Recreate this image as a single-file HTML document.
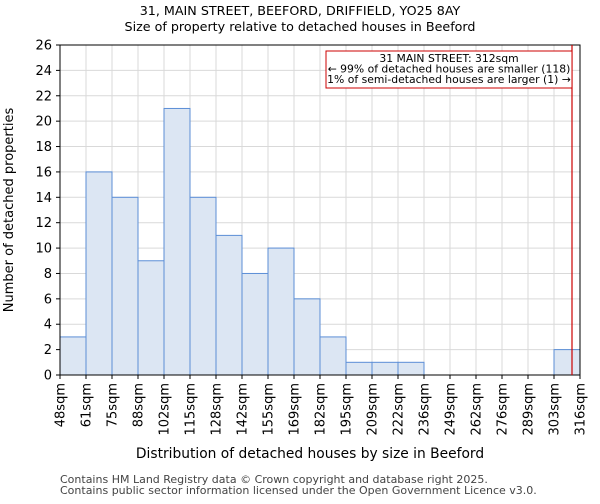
<!DOCTYPE html>
<html><head><meta charset="utf-8"><style>
body{margin:0;background:#fff;font-family:"DejaVu Sans","Liberation Sans",sans-serif;}
svg text{font-family:"DejaVu Sans","Liberation Sans",sans-serif;}
</style></head><body>
<svg id="chart" width="600" height="500" xmlns="http://www.w3.org/2000/svg">
<text x="300" y="15" text-anchor="middle" font-size="12.7">31, MAIN STREET, BEEFORD, DRIFFIELD, YO25 8AY</text>
<text x="300" y="31" text-anchor="middle" font-size="12.7">Size of property relative to detached houses in Beeford</text>
<g id="grid"></g>
<g id="bars"></g>
<g id="axes"></g>
<text x="310" y="458" text-anchor="middle" font-size="13.8">Distribution of detached houses by size in Beeford</text>
<text transform="translate(13,210) rotate(-90)" text-anchor="middle" font-size="13">Number of detached properties</text>
<text x="60" y="483" font-size="11" fill="#444">Contains HM Land Registry data © Crown copyright and database right 2025.</text>
<text x="60" y="494" font-size="11" fill="#444">Contains public sector information licensed under the Open Government Licence v3.0.</text>
</svg>
<script>
const categories=["48sqm","61sqm","75sqm","88sqm","102sqm","115sqm","128sqm","142sqm","155sqm","169sqm","182sqm","195sqm","209sqm","222sqm","236sqm","249sqm","262sqm","276sqm","289sqm","303sqm","316sqm"];
const counts=[3,16,14,9,21,14,11,8,10,6,3,1,1,1,0,0,0,0,0,2];
const yTicks=[0,2,4,6,8,10,12,14,16,18,20,22,24,26];
const binStarts=[48,61,75,88,102,115,128,142,155,169,182,195,209,222,236,249,262,276,289,303,316];
const propertySize=312;
const NS="http://www.w3.org/2000/svg";
const L=60,R=580,T=45,B=375,yMax=26;
const x=i=>L+(R-L)*i/counts.length;
const y=v=>B-(B-T)*v/yMax;
function mk(tag,a,parent){const e=document.createElementNS(NS,tag);for(const k in a)e.setAttribute(k,a[k]);parent.appendChild(e);return e;}
const grid=document.getElementById('grid'),bars=document.getElementById('bars'),axes=document.getElementById('axes');
yTicks.forEach(t=>{
  const g=mk('line',{x1:L,x2:R,y1:y(t),y2:y(t),stroke:'#d9d9d9','stroke-width':1},grid);
  
  
  const tk=mk('line',{x1:L-4,x2:L,y1:y(t),y2:y(t),stroke:'#000'},axes);
  
  
  const tx=mk('text',{x:L-8,y:y(t)+4.5,'text-anchor':'end','font-size':13},axes);
  tx.textContent=t;
  
  
});
categories.forEach((c,i)=>{
  const g=mk('line',{x1:x(i),x2:x(i),y1:T,y2:B,stroke:'#d9d9d9'},grid);
  
  
  const tk=mk('line',{x1:x(i),x2:x(i),y1:B,y2:B+4,stroke:'#000'},axes);
  
  
  const tx=mk('text',{transform:`translate(${x(i)+4.5},${B+8}) rotate(-90)`,'text-anchor':'end','font-size':13},axes);
  tx.textContent=c;
  
  
});
counts.forEach((v,i)=>{
  if(v<=0)return;
  const r=mk('rect',{x:x(i),y:y(v),width:x(i+1)-x(i),height:B-y(v),fill:'#dce6f3',stroke:'#5b8ed6','stroke-width':1},bars);
  
  
});
mk('rect',{x:L,y:T,width:R-L,height:B-T,fill:'none',stroke:'#000'},axes);
let bi=0;for(let i=0;i<binStarts.length-1;i++)if(propertySize>=binStarts[i])bi=i;
const px=x(bi)+(x(bi+1)-x(bi))*(propertySize-binStarts[bi])/(binStarts[bi+1]-binStarts[bi]);
const ml=mk('line',{x1:px,x2:px,y1:T,y2:B,stroke:'#cc0000','stroke-width':1.2},axes);


const box=mk('rect',{x:326,y:51,width:px-326,height:37,fill:'#fff',stroke:'#cc0000'},axes);


["31 MAIN STREET: 312sqm","← 99% of detached houses are smaller (118)","1% of semi-detached houses are larger (1) →"].forEach((s,i)=>{
  const t=mk('text',{x:(326+px)/2,y:62+i*10.5,'text-anchor':'middle','font-size':10.8},axes);
  t.textContent=s;
  
  
});
</script>
</body></html>
